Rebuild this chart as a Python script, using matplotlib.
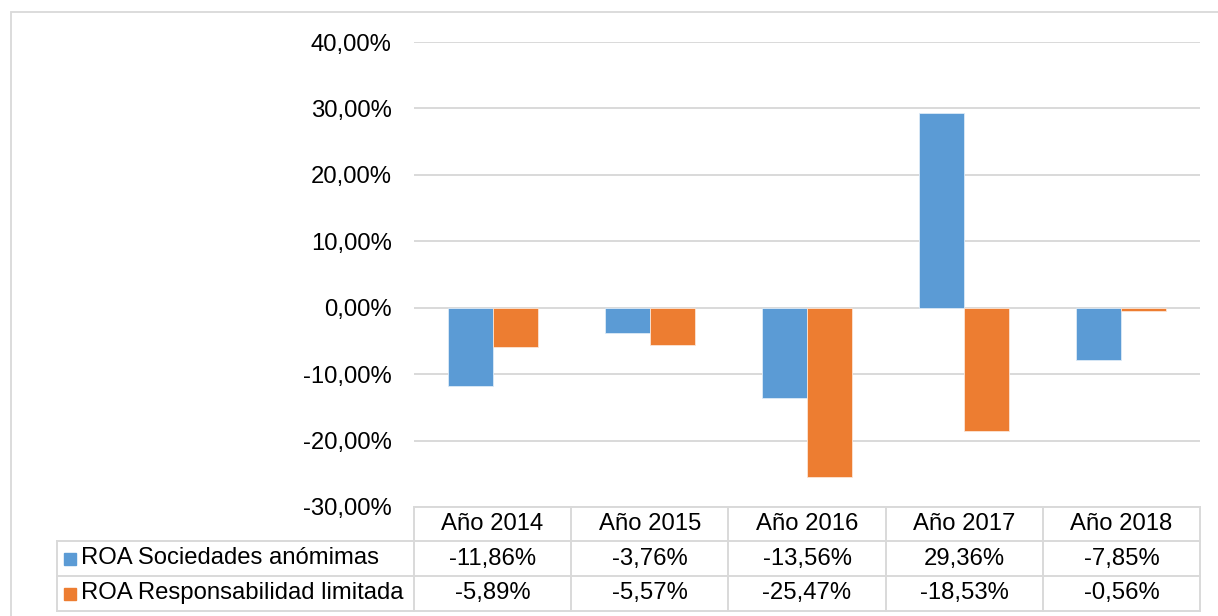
import matplotlib
matplotlib.use("Agg")
import matplotlib.pyplot as plt
import numpy as np
from matplotlib.patches import Rectangle
from matplotlib.ticker import FuncFormatter

years = ["Año 2014", "Año 2015", "Año 2016", "Año 2017", "Año 2018"]
series_names = ["ROA Sociedades anómimas", "ROA Responsabilidad limitada"]
roa_sa = [-11.86, -3.76, -13.56, 29.36, -7.85]
roa_rl = [-5.89, -5.57, -25.47, -18.53, -0.56]
colors = ["#5B9BD5", "#ED7D31"]
yticks = [-30, -20, -10, 0, 10, 20, 30, 40]

W, H = 1218, 616
GRID = "#D9D9D9"
FS = 17.2

plt.rcParams["font.family"] = ["Liberation Sans", "DejaVu Sans"]


def pct(v):
    return f"{v:.2f}%".replace(".", ",")


def fx(px):
    return px / W


def fy(py):
    return 1 - py / H


fig = plt.figure(figsize=(W / 100, H / 100), dpi=100)

# outer chart border
fig.patches.append(Rectangle((fx(10.5), fy(640)), fx(1230) - fx(10.5), fy(12) - fy(640),
                             transform=fig.transFigure, fill=False,
                             edgecolor=GRID, linewidth=1.3))

# plot area
left, right, top, bottom = 414, 1200, 42, 507
ax = fig.add_axes([fx(left), fy(bottom), fx(right) - fx(left), fy(top) - fy(bottom)])
x = np.arange(len(years))
bw = 0.286
ax.bar(x - bw / 2, roa_sa, bw, color=colors[0], edgecolor="#DDEBF7", linewidth=0.6, zorder=3)
ax.bar(x + bw / 2, roa_rl, bw, color=colors[1], edgecolor="#FBE5D6", linewidth=0.6, zorder=3)
ax.set_xlim(-0.5, len(years) - 0.5)
ax.set_ylim(-30, 40)
ax.set_yticks(yticks)
ax.yaxis.set_major_formatter(FuncFormatter(lambda v, p: pct(v)))
ax.tick_params(axis="y", length=0, pad=16, labelsize=FS)
ax.tick_params(axis="x", length=0, labelbottom=False)
ax.grid(axis="y", color=GRID, linewidth=1.4, zorder=0)
for s in ax.spines.values():
    s.set_visible(False)

# data table below the plot, laid out in pixel units
t_left, t_top, t_bot = 57, 507, 611
rows = [507, 541, 576, 611]
cw = (right - left) / len(years)
tax = fig.add_axes([fx(t_left), fy(t_bot), fx(right) - fx(t_left), fy(t_top) - fy(t_bot)])
tax.set_xlim(t_left, right)
tax.set_ylim(t_bot, t_top)
tax.axis("off")
lk = dict(color=GRID, linewidth=1.4, clip_on=False)
tax.plot([left, right], [rows[0], rows[0]], **lk)
for r in rows[1:]:
    tax.plot([t_left, right], [r, r], **lk)
tax.plot([t_left, t_left], [rows[1], rows[3]], **lk)
for i in range(len(years) + 1):
    cx = left + i * cw
    tax.plot([cx, cx], [rows[0], rows[3]], **lk)

for i, yr in enumerate(years):
    cx = left + (i + 0.5) * cw
    tax.text(cx, (rows[0] + rows[1]) / 2, yr, ha="center", va="center", fontsize=FS)
    tax.text(cx, (rows[1] + rows[2]) / 2, pct(roa_sa[i]), ha="center", va="center", fontsize=FS)
    tax.text(cx, (rows[2] + rows[3]) / 2, pct(roa_rl[i]), ha="center", va="center", fontsize=FS)

for j, name in enumerate(series_names):
    cy = (rows[j + 1] + rows[j + 2]) / 2
    tax.add_patch(Rectangle((64, cy - 6), 12, 12, color=colors[j], clip_on=False))
    tax.text(81, cy, name, ha="left", va="center", fontsize=FS)

fig.savefig("out.png", dpi=100)
